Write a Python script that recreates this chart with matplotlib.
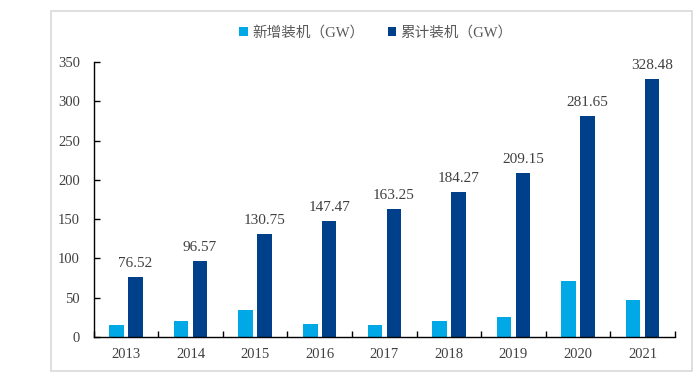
import numpy as np
import matplotlib.pyplot as plt
from matplotlib.patches import Rectangle

plt.rcParams['font.family'] = ['Liberation Serif', 'Noto Sans CJK SC']

years = ["2013", "2014", "2015", "2016", "2017", "2018", "2019", "2020", "2021"]
new_gw = [15.4, 19.8, 34.0, 16.6, 15.6, 20.6, 25.0, 71.7, 46.5]
total_gw = [76.52, 96.57, 130.75, 147.47, 163.25, 184.27, 209.15, 281.65, 328.48]

light = "#00a9e6"
dark = "#003f8a"
text_c = "#404040"

fig = plt.figure(figsize=(7, 3.79), dpi=100)
ax = fig.add_axes([0.134, 0.111, 0.830, 0.725])

# light gray frame around the chart area
fig.patches.append(Rectangle((51 / 700, 1 - 371 / 379), 641 / 700, 360 / 379,
                             transform=fig.transFigure, fill=False,
                             edgecolor="#d9d9d9", linewidth=1.2))

x = np.arange(len(years))
w = 0.225
off = 0.147
b1 = ax.bar(x - off, new_gw, w, color=light, label="新增装机（GW）")
b2 = ax.bar(x + off, total_gw, w, color=dark, label="累计装机（GW）")

for xi, v in zip(x, total_gw):
    ax.annotate(f"{v:.2f}", (xi + off, v), xytext=(0, 5), textcoords="offset points",
                ha="center", va="bottom", fontsize=11, color=text_c)

ax.set_xlim(-0.5, len(years) - 0.5)
ax.set_ylim(0, 350)
ax.set_yticks(range(0, 351, 50))
ax.set_xticks(x)
ax.set_xticklabels(years)
ax.set_xticks(np.arange(-0.5, len(years) - 0.4, 1), minor=True)
ax.tick_params(axis="x", which="major", length=0, pad=8, labelsize=10.5, labelcolor=text_c)
ax.tick_params(axis="x", which="minor", direction="in", length=4, width=1)
ax.tick_params(axis="y", direction="in", length=4, width=1, pad=10, labelsize=10.5, labelcolor=text_c)

for s in ["top", "right"]:
    ax.spines[s].set_visible(False)
for s in ["left", "bottom"]:
    ax.spines[s].set_linewidth(1)
    ax.spines[s].set_color("black")

fig.legend(handles=[b1, b2], loc="center", bbox_to_anchor=(0.537, 0.913), ncol=2,
           frameon=False, fontsize=10.5, handlelength=0.6, handleheight=0.6,
           handletextpad=0.3, columnspacing=1.6, labelcolor="#595959")

fig.savefig("out.png", dpi=100)
